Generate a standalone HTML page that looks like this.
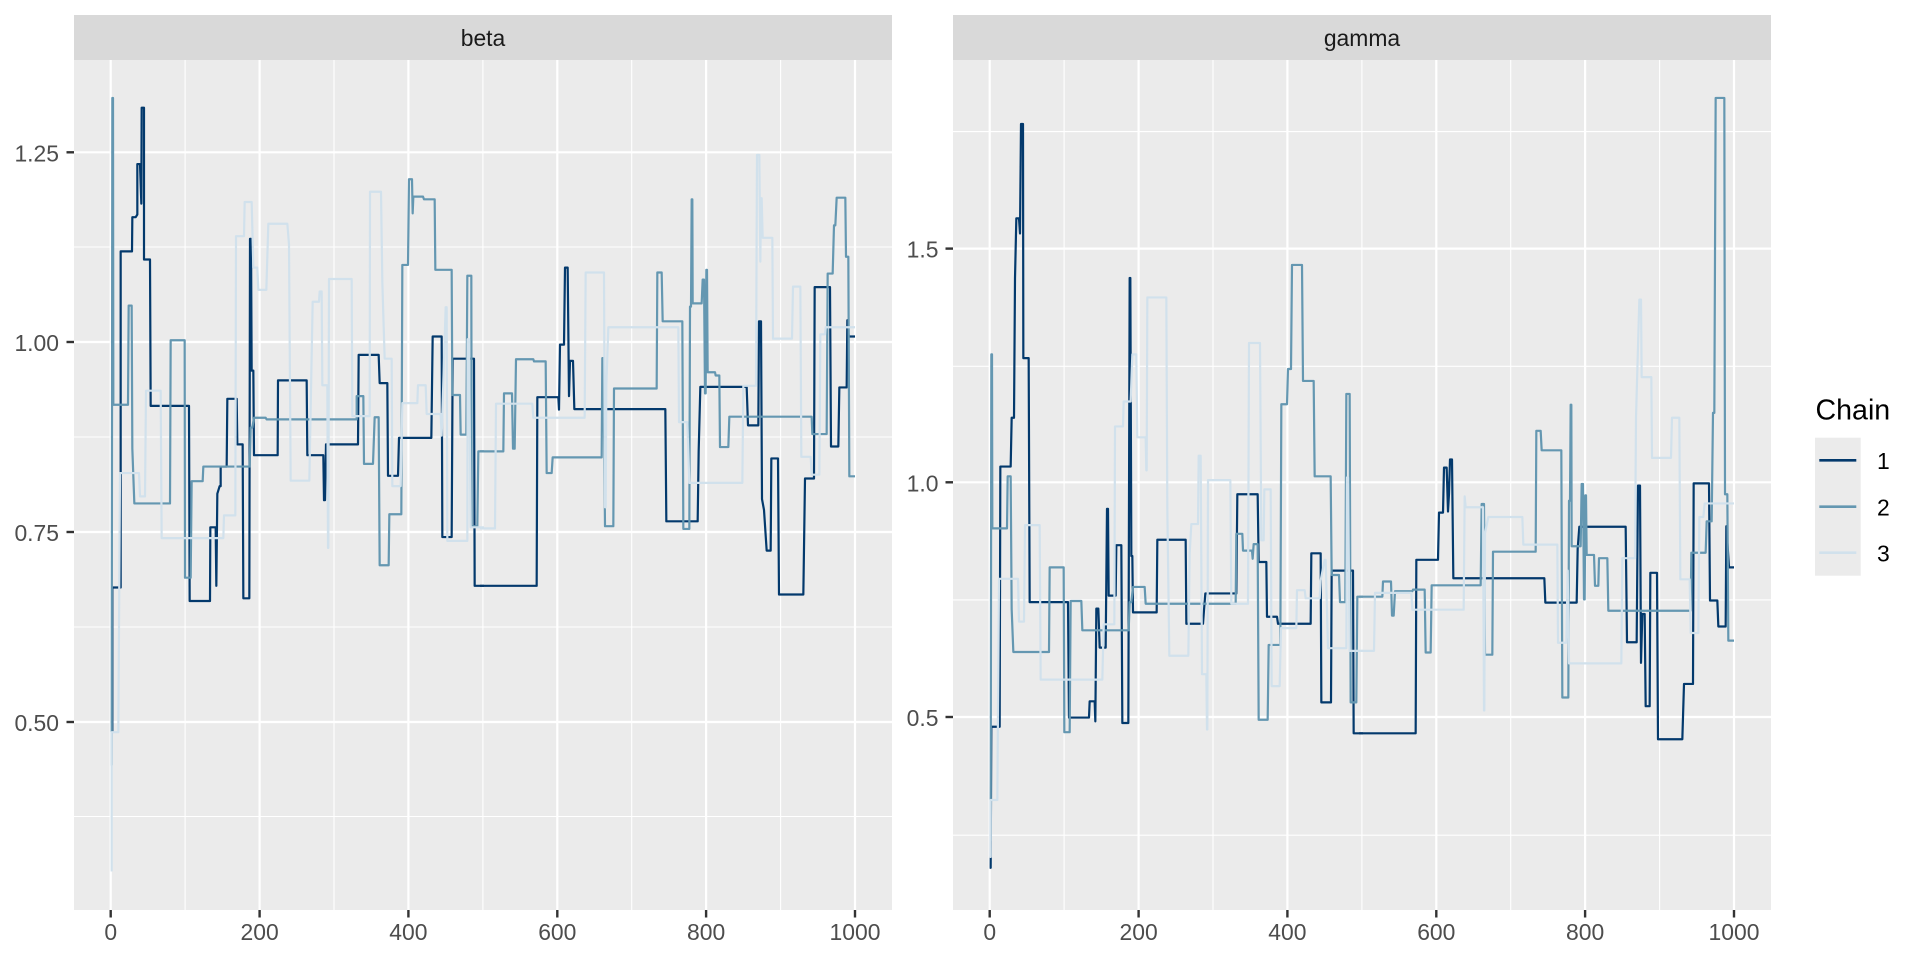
<!DOCTYPE html>
<html>
<head>
<meta charset="utf-8">
<style>
  html,body{margin:0;padding:0;background:#ffffff;}
  svg{display:block;}
  text{font-family:"Liberation Sans",Arial,sans-serif;}
</style>
</head>
<body>
<svg width="1920" height="960" viewBox="0 0 1920 960" xmlns="http://www.w3.org/2000/svg">
  <rect x="0" y="0" width="1920" height="960" fill="#ffffff"/>

  <!-- ===== BETA PANEL ===== -->
  <rect x="74" y="15" width="818" height="45" fill="#d9d9d9"/>
  <text x="483" y="46" font-size="22.9" fill="#1a1a1a" text-anchor="middle">beta</text>
  <rect x="74" y="60" width="818" height="850" fill="#ebebeb"/>
  <!-- minor grid -->
  <g stroke="#ffffff" stroke-width="1.1">
    <line x1="74" x2="892" y1="247" y2="247"/>
    <line x1="74" x2="892" y1="437" y2="437"/>
    <line x1="74" x2="892" y1="627" y2="627"/>
    <line x1="74" x2="892" y1="816.5" y2="816.5"/>
    <line x1="185.1" x2="185.1" y1="60" y2="910"/>
    <line x1="334" x2="334" y1="60" y2="910"/>
    <line x1="482.9" x2="482.9" y1="60" y2="910"/>
    <line x1="631.7" x2="631.7" y1="60" y2="910"/>
    <line x1="780.6" x2="780.6" y1="60" y2="910"/>
  </g>
  <!-- major grid -->
  <g stroke="#ffffff" stroke-width="2.2">
    <line x1="74" x2="892" y1="152.3" y2="152.3"/>
    <line x1="74" x2="892" y1="342" y2="342"/>
    <line x1="74" x2="892" y1="532" y2="532"/>
    <line x1="74" x2="892" y1="722" y2="722"/>
    <line x1="110.7" x2="110.7" y1="60" y2="910"/>
    <line x1="259.6" x2="259.6" y1="60" y2="910"/>
    <line x1="408.4" x2="408.4" y1="60" y2="910"/>
    <line x1="557.3" x2="557.3" y1="60" y2="910"/>
    <line x1="706.1" x2="706.1" y1="60" y2="910"/>
    <line x1="855" x2="855" y1="60" y2="910"/>
  </g>

  <!-- beta traces left half -->
  <g transform="translate(74 60) scale(0.333333 0.54210)" fill="none" stroke-linejoin="round">
    <polyline vector-effect="non-scaling-stroke" stroke="#03396c" stroke-width="2.2" points="112,1240 115,1240 115,973 140,973 140,353 174,353 175,290 185,290 190,285 190,192 198,192 202,265 203,88 210,88 210,368 228,368 230,638 345,638 347,998 408,998 409,862 425,862 427,970 430,800 437,786 440,786 440,750 458,750 460,625 488,625 490,709 506,709 508,993 526,993 528,330 531,330 533,573 538,573 540,729 611,729 612,591 698,591 700,729 748,729 750,812 753,812 756,709 852,709 854,544 914,544 917,596 940,596 942,767 972,767 975,697 1072,697 1076,510 1103,510 1105,880 1133,880 1136,551 1200,551 1202,970 1230,970"/>
    <polyline vector-effect="non-scaling-stroke" stroke="#6497b1" stroke-width="2.2" points="110,1300 113,1300 115,70 117,70 118,636 162,636 164,453 173,453 175,717 181,818 288,818 290,517 332,517 333,955 350,955 353,777 386,777 388,750 527,750 530,678 535,678 540,660 575,660 578,663 848,663 848,620 868,620 870,745 897,745 902,659 914,659 917,932 944,932 946,838 982,838 985,378 1002,378 1005,220 1014,220 1016,283 1018,252 1047,252 1050,257 1082,257 1084,387 1133,387 1135,618 1158,618 1160,691 1177,691 1180,398 1192,398 1193,860 1210,860 1213,722 1230,722"/>
    <polyline vector-effect="non-scaling-stroke" stroke="#d1e1ec" stroke-width="2.2" points="110,1495 113,1495 113,1240 133,1240 138,762 195,762 198,805 213,805 216,610 260,610 263,882 448,882 450,840 484,840 486,325 510,325 512,262 533,262 538,383 550,383 553,424 577,424 583,302 640,302 645,340 650,776 706,776 716,446 735,446 737,427 743,427 745,600 760,600 762,900 763,900 765,404 833,404 835,657 887,657 888,243 921,243 925,410 932,551 953,551 955,786 980,786 985,633 1030,633 1032,600 1055,600 1058,653 1100,653 1103,693 1115,456 1118,456 1120,887 1180,887 1181,515 1185,515 1190,862 1230,862"/>
  </g>
  <!-- beta traces right half -->
  <g transform="translate(480 60) scale(0.333333 0.54210)" fill="none" stroke-linejoin="round">
    <polyline vector-effect="non-scaling-stroke" stroke="#03396c" stroke-width="2.2" points="0,970 170,970 172,622 235,622 237,645 240,525 252,525 255,383 263,383 267,620 270,555 279,555 283,644 556,644 559,851 653,851 656,722 661,603 800,603 804,674 835,674 837,482 843,482 846,810 852,830 860,905 872,905 874,735 894,735 897,986 970,986 975,772 1002,772 1004,419 1050,419 1053,713 1075,713 1078,604 1100,604 1102,480 1106,510 1125,510"/>
    <polyline vector-effect="non-scaling-stroke" stroke="#6497b1" stroke-width="2.2" points="0,722 70,722 72,615 96,615 99,717 104,717 108,552 160,552 162,556 197,556 200,762 215,762 218,733 365,733 367,550 370,550 375,860 378,860 400,860 402,606 530,606 532,392 545,392 548,482 607,482 610,865 628,865 630,455 633,455 635,257 637,257 638,449 665,449 668,405 672,405 675,615 677,615 679,387 681,387 683,576 705,576 707,582 718,582 720,714 745,714 748,658 995,658 997,690 1040,690 1043,394 1058,394 1062,305 1066,305 1070,254 1096,254 1098,363 1105,363 1108,768 1125,768"/>
    <polyline vector-effect="non-scaling-stroke" stroke="#d1e1ec" stroke-width="2.2" points="0,864 45,864 48,634 157,634 160,660 314,660 317,392 372,392 375,825 377,825 379,600 385,493 388,493 595,493 597,668 622,668 628,780 787,780 790,601 828,601 831,175 838,175 841,372 843,255 845,255 848,328 877,328 879,514 936,514 939,418 961,418 964,732 992,732 995,765 1018,765 1021,506 1035,506 1037,493 1125,493"/>
  </g>

  <!-- beta axes -->
  <g stroke="#333333" stroke-width="2.4">
    <line x1="66.5" x2="74" y1="152.3" y2="152.3"/>
    <line x1="66.5" x2="74" y1="342" y2="342"/>
    <line x1="66.5" x2="74" y1="532" y2="532"/>
    <line x1="66.5" x2="74" y1="722" y2="722"/>
    <line x1="110.7" x2="110.7" y1="910" y2="917.5"/>
    <line x1="259.6" x2="259.6" y1="910" y2="917.5"/>
    <line x1="408.4" x2="408.4" y1="910" y2="917.5"/>
    <line x1="557.3" x2="557.3" y1="910" y2="917.5"/>
    <line x1="706.1" x2="706.1" y1="910" y2="917.5"/>
    <line x1="855" x2="855" y1="910" y2="917.5"/>
  </g>
  <g font-size="22.9" fill="#4d4d4d" text-anchor="end">
    <text x="59" y="161.3">1.25</text>
    <text x="59" y="351">1.00</text>
    <text x="59" y="541">0.75</text>
    <text x="59" y="731">0.50</text>
  </g>
  <g font-size="22.9" fill="#4d4d4d" text-anchor="middle">
    <text x="110.7" y="940">0</text>
    <text x="259.6" y="940">200</text>
    <text x="408.4" y="940">400</text>
    <text x="557.3" y="940">600</text>
    <text x="706.1" y="940">800</text>
    <text x="855" y="940">1000</text>
  </g>

  <!-- ===== GAMMA PANEL ===== -->
  <rect x="953" y="15" width="818" height="45" fill="#d9d9d9"/>
  <text x="1362" y="46" font-size="22.9" fill="#1a1a1a" text-anchor="middle">gamma</text>
  <rect x="953" y="60" width="818" height="850" fill="#ebebeb"/>
  <g stroke="#ffffff" stroke-width="1.1">
    <line x1="953" x2="1771" y1="131.6" y2="131.6"/>
    <line x1="953" x2="1771" y1="366.3" y2="366.3"/>
    <line x1="953" x2="1771" y1="599.9" y2="599.9"/>
    <line x1="953" x2="1771" y1="835.2" y2="835.2"/>
    <line x1="1064.1" x2="1064.1" y1="60" y2="910"/>
    <line x1="1213" x2="1213" y1="60" y2="910"/>
    <line x1="1361.9" x2="1361.9" y1="60" y2="910"/>
    <line x1="1510.7" x2="1510.7" y1="60" y2="910"/>
    <line x1="1659.6" x2="1659.6" y1="60" y2="910"/>
  </g>
  <g stroke="#ffffff" stroke-width="2.2">
    <line x1="953" x2="1771" y1="248.6" y2="248.6"/>
    <line x1="953" x2="1771" y1="482.3" y2="482.3"/>
    <line x1="953" x2="1771" y1="717" y2="717"/>
    <line x1="989.7" x2="989.7" y1="60" y2="910"/>
    <line x1="1138.6" x2="1138.6" y1="60" y2="910"/>
    <line x1="1287.4" x2="1287.4" y1="60" y2="910"/>
    <line x1="1436.3" x2="1436.3" y1="60" y2="910"/>
    <line x1="1585.1" x2="1585.1" y1="60" y2="910"/>
    <line x1="1734" x2="1734" y1="60" y2="910"/>
  </g>

  <!-- gamma traces left half -->
  <g transform="translate(953 60) scale(0.333333 0.54210)" fill="none" stroke-linejoin="round">
    <polyline vector-effect="non-scaling-stroke" stroke="#03396c" stroke-width="2.2" points="110,1490 113,1490 115,1230 140,1230 142,750 173,750 176,660 183,660 186,403 190,292 198,292 201,320 204,118 210,118 211,550 227,550 230,1000 345,1000 348,1213 408,1213 410,1183 425,1183 427,1220 430,1012 436,1012 440,1084 458,1084 462,828 465,828 467,988 488,988 490,895 505,895 508,1223 526,1223 530,402 532,402 535,915 538,915 540,1019 611,1019 613,885 698,885 700,1040 750,1040 753,1015 757,984 850,984 853,801 914,801 917,926 940,926 942,1027 972,1027 975,1040 1073,1040 1075,910 1103,910 1105,1185 1134,1185 1136,942 1200,942 1202,1242 1230,1242"/>
    <polyline vector-effect="non-scaling-stroke" stroke="#6497b1" stroke-width="2.2" points="110,1440 113,1440 115,543 117,543 118,864 162,864 164,768 173,768 176,1013 181,1092 288,1092 290,936 332,936 334,1240 350,1240 353,998 385,998 388,1052 527,1052 530,1000 535,1000 540,972 575,972 578,1003 848,1003 850,874 868,874 870,905 897,905 899,920 902,893 914,893 917,1217 944,1217 947,1079 982,1079 985,635 1002,635 1005,570 1014,570 1017,378 1047,378 1050,592 1082,592 1085,768 1133,768 1136,950 1158,950 1161,1000 1177,1000 1180,616 1190,616 1193,1185 1210,1185 1213,990 1230,990"/>
    <polyline vector-effect="non-scaling-stroke" stroke="#d1e1ec" stroke-width="2.2" points="110,1470 113,1470 113,1365 133,1365 138,957 195,957 198,1036 213,1036 216,858 260,858 263,1143 448,1143 452,1041 484,1041 486,676 510,676 512,630 533,630 538,543 550,543 553,696 578,696 580,757 581,757 583,438 640,438 643,830 649,1099 706,1099 710,910 715,856 735,856 737,730 743,730 747,1133 760,1133 762,1235 763,1235 765,775 832,775 835,1003 885,1003 888,522 921,522 925,886 932,886 934,792 953,792 956,1155 980,1155 984,1048 1030,1048 1032,978 1055,978 1058,993 1100,993 1103,960 1115,922 1118,922 1125,1085 1180,1085 1182,770 1185,770 1190,1090 1230,1090"/>
  </g>
  <!-- gamma traces right half -->
  <g transform="translate(1359 60) scale(0.333333 0.54210)" fill="none" stroke-linejoin="round">
    <polyline vector-effect="non-scaling-stroke" stroke="#03396c" stroke-width="2.2" points="0,1242 170,1242 172,922 237,922 240,835 252,835 255,752 263,752 267,833 270,800 273,737 279,737 283,956 556,956 559,1001 653,1001 656,902 661,861 800,861 804,1074 833,1074 837,785 843,785 846,1112 850,1022 857,1022 860,1192 872,1192 874,946 894,946 897,1253 970,1253 975,1151 1002,1151 1004,781 1050,781 1053,997 1075,997 1078,1045 1100,1045 1102,860 1110,936 1125,936"/>
    <polyline vector-effect="non-scaling-stroke" stroke="#6497b1" stroke-width="2.2" points="0,990 70,990 72,962 96,962 99,1025 104,1025 108,980 160,980 162,977 197,977 200,1093 215,1093 218,969 365,969 368,819 375,819 378,1097 400,1097 402,907 530,907 532,684 545,684 548,720 607,720 610,1176 628,1176 630,813 633,813 635,636 637,636 638,897 665,897 668,782 672,782 675,995 677,995 679,803 681,803 683,913 705,913 708,970 718,970 720,919 745,919 748,1016 995,1016 997,909 1040,909 1043,851 1058,851 1062,651 1066,651 1070,70 1096,70 1098,801 1105,801 1108,1071 1125,1071"/>
    <polyline vector-effect="non-scaling-stroke" stroke="#d1e1ec" stroke-width="2.2" points="0,1090 45,1090 48,983 157,983 160,1014 314,1014 317,805 320,825 372,825 375,1200 376,1200 378,873 388,843 490,843 493,894 595,894 597,1075 622,1075 626,942 630,1113 787,1113 790,919 828,919 831,660 841,442 846,442 848,585 877,585 879,734 936,734 939,660 961,660 964,958 992,958 995,1057 1018,1057 1021,843 1033,843 1037,818 1125,818"/>
  </g>

  <!-- gamma axes -->
  <g stroke="#333333" stroke-width="2.4">
    <line x1="945.5" x2="953" y1="248.6" y2="248.6"/>
    <line x1="945.5" x2="953" y1="482.3" y2="482.3"/>
    <line x1="945.5" x2="953" y1="717" y2="717"/>
    <line x1="989.7" x2="989.7" y1="910" y2="917.5"/>
    <line x1="1138.6" x2="1138.6" y1="910" y2="917.5"/>
    <line x1="1287.4" x2="1287.4" y1="910" y2="917.5"/>
    <line x1="1436.3" x2="1436.3" y1="910" y2="917.5"/>
    <line x1="1585.1" x2="1585.1" y1="910" y2="917.5"/>
    <line x1="1734" x2="1734" y1="910" y2="917.5"/>
  </g>
  <g font-size="22.9" fill="#4d4d4d" text-anchor="end">
    <text x="938.5" y="257.6">1.5</text>
    <text x="938.5" y="491.3">1.0</text>
    <text x="938.5" y="726">0.5</text>
  </g>
  <g font-size="22.9" fill="#4d4d4d" text-anchor="middle">
    <text x="989.7" y="940">0</text>
    <text x="1138.6" y="940">200</text>
    <text x="1287.4" y="940">400</text>
    <text x="1436.3" y="940">600</text>
    <text x="1585.1" y="940">800</text>
    <text x="1734" y="940">1000</text>
  </g>

  <!-- ===== LEGEND ===== -->
  <text x="1815.5" y="419.5" font-size="28.6" fill="#000000">Chain</text>
  <rect x="1815" y="437.7" width="45.7" height="138" fill="#ebebeb"/>
  <g stroke-width="2.6">
    <line x1="1819.3" x2="1856.3" y1="460.3" y2="460.3" stroke="#03396c"/>
    <line x1="1819.3" x2="1856.3" y1="506.7" y2="506.7" stroke="#6497b1"/>
    <line x1="1819.3" x2="1856.3" y1="552.7" y2="552.7" stroke="#d1e1ec"/>
  </g>
  <g font-size="22.9" fill="#000000">
    <text x="1877" y="469">1</text>
    <text x="1877" y="515.3">2</text>
    <text x="1877" y="561.3">3</text>
  </g>
</svg>
</body>
</html>
